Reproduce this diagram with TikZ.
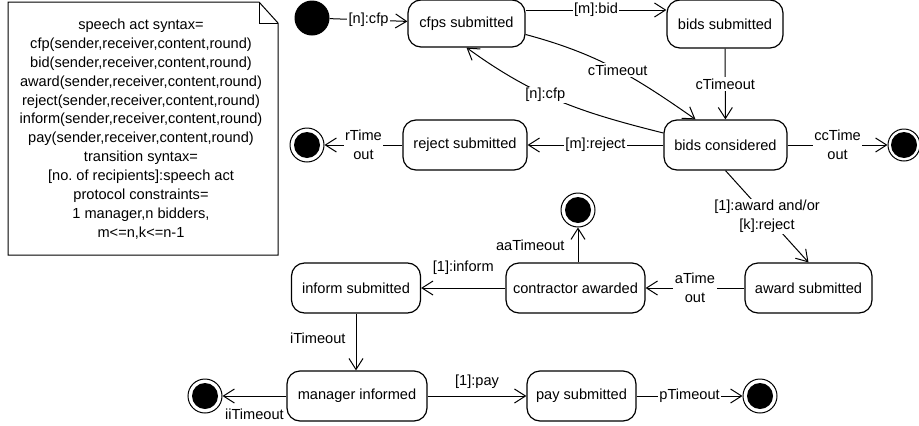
\documentclass[tikz,border=0pt]{standalone}
\usepackage{fontspec}
\setmainfont{Liberation Sans}
\usetikzlibrary{arrows.meta,calc}
\frenchspacing
\begin{document}
\begin{tikzpicture}[x=1pt,y=-1pt,
  every node/.style={font=\fontsize{14.6}{19}\selectfont},
  state/.style={draw, rounded corners=13pt, line width=1.2pt, inner sep=0pt, align=center},
  lbl/.style={fill=white, inner sep=1.5pt, align=center},
  tag/.style={inner sep=1pt, align=center},
  arr/.style={-{Straight Barb[length=11pt,width=14pt]}, line width=1pt},
  initst/.style={circle, fill=black, minimum size=35pt, inner sep=0pt},
  finst/.style={circle, draw, line width=1pt, minimum size=34pt, inner sep=0pt,
    path picture={\fill[black] (path picture bounding box.center) circle (13pt);}},
]
\useasboundingbox (0,0) rectangle (919,426);

% note
\draw[line width=1pt] (8,2) -- (259,2) -- (278,23) -- (278,255) -- (8,255) -- cycle;
\draw[line width=1pt] (259,2) -- (259,23) -- (278,23);
\node[tag, font=\fontsize{14.6}{18.9}\selectfont] (note) at (141,129) {speech act syntax=\\
cfp(sender,receiver,content,round)\\
bid(sender,receiver,content,round)\\
award(sender,receiver,content,round)\\
reject(sender,receiver,content,round)\\
inform(sender,receiver,content,round)\\
pay(sender,receiver,content,round)\\
transition syntax=\\{}[no.\ of recipients]:speech act\\
protocol constraints=\\
1 manager,n bidders,\\
m<=n,k<=n-1};

% states
\node[initst] (init) at (312,18) {};
\node[state, minimum width=117pt, minimum height=47pt] (cfps) at (466.5,23.5) {cfps submitted};
\node[state, minimum width=116pt, minimum height=48pt] (bsub) at (725,24) {bids submitted};
\node[state, minimum width=123pt, minimum height=50pt] (bcons) at (725.5,145) {bids considered};
\node[state, minimum width=124pt, minimum height=50pt] (rsub) at (465,145) {reject submitted};
\node[finst] (fr) at (307,145) {};
\node[finst, minimum size=32pt] (fcc) at (904,145) {};
\node[state, minimum width=127pt, minimum height=50pt] (asub) at (808.5,288) {award submitted};
\node[state, minimum width=139pt, minimum height=50pt] (caw) at (575.5,288) {contractor awarded};
\node[finst] (faa) at (578,210) {};
\node[state, minimum width=129pt, minimum height=50pt] (isub) at (356,288) {inform submitted};
\node[state, minimum width=140pt, minimum height=50pt] (minf) at (357,396) {manager informed};
\node[state, minimum width=109pt, minimum height=50pt] (psub) at (581.5,396) {pay submitted};
\node[finst] (fp) at (760,396) {};
\node[finst] (fii) at (205,396) {};

% transitions
\draw[arr] (init) -- node[lbl]{[n]:cfp} (cfps);
\draw[arr] (cfps.east |- 0,10) -- node[lbl]{[m]:bid} (bsub.west |- 0,10);
\draw[arr] (bsub) -- node[lbl]{cTimeout} (bcons);
\draw[arr] ($(cfps.east)+(0,11)$) to[out=-15,in=145] node[lbl,pos=0.52]{cTimeout} ($(bcons.north)+(-30,0)$);
\draw[arr] ($(bcons.west)+(0,-12)$) to[out=166,in=-36] node[lbl,pos=0.58]{[n]:cfp} (cfps.south);
\draw[arr] (bcons) -- node[lbl]{[m]:reject} (rsub);
\draw[arr] (rsub) -- node[lbl]{rTime\\out} (fr);
\draw[arr] (bcons) -- node[lbl]{ccTime\\out} (fcc);
\draw[arr] (bcons.south) -- node[lbl]{[1]:award and/or\\{}[k]:reject} (asub.north);
\draw[arr] (asub) -- node[lbl]{aTime\\out} (caw);
\draw[arr] (caw.north -| faa) -- node[tag,left=12pt]{aaTimeout} (faa);
\draw[arr] (caw) -- node[tag,above=12pt]{[1]:inform} (isub);
\draw[arr] (isub.south) -- node[tag,left=9pt,pos=0.43]{iTimeout} (isub.south |- minf.north);
\draw[arr] (minf) -- node[tag,above=6pt]{[1]:pay} (psub);
\draw[arr] (psub) -- node[lbl]{pTimeout} (fp);
\draw[arr] (minf) -- node[tag,below=11pt]{iiTimeout} (fii);
\end{tikzpicture}
\end{document}
